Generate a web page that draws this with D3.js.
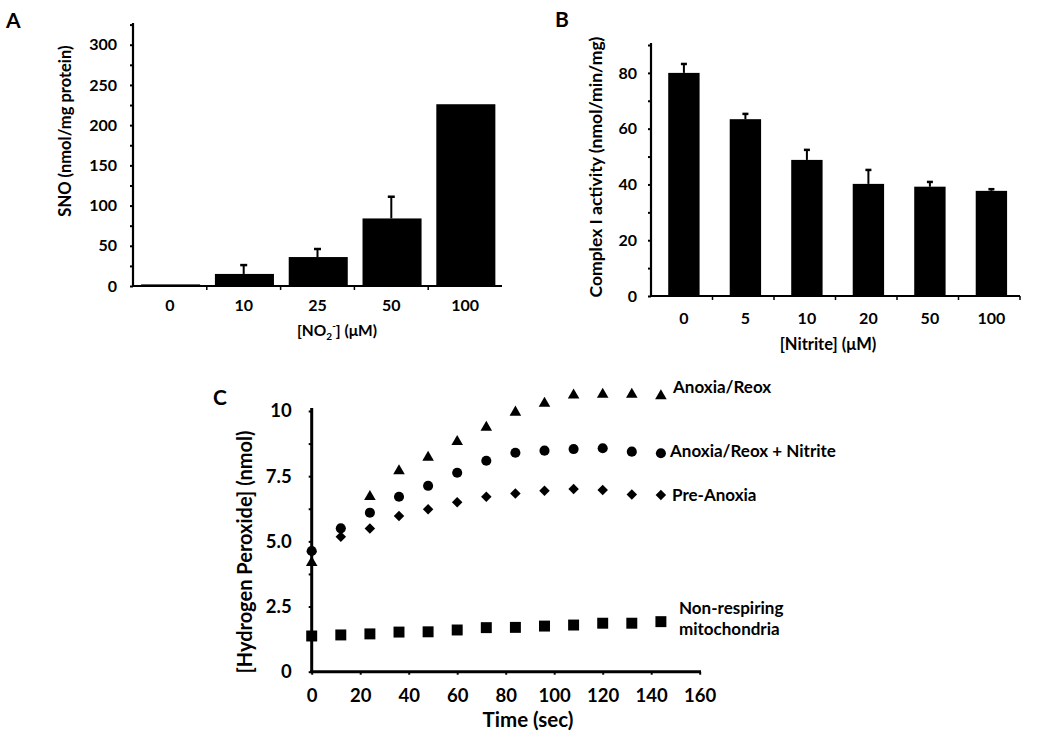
<!DOCTYPE html>
<html>
<head>
<meta charset="utf-8">
<script src="https://cdn.jsdelivr.net/npm/d3@7"></script>
<style>
  html, body { margin: 0; padding: 0; background: #fff; }
  svg { display: block; }
  text { font-family: Lato, "Open Sans", sans-serif; font-weight: bold; fill: #000; }
</style>
</head>
<body>
<svg id="chart" width="1050" height="740"></svg>
<script>
// ---------- Panel A data ----------
const catsA = ["0", "10", "25", "50", "100"];
const snoMean = [2, 15, 36, 84, 226];
const snoErr = [0, 11, 10, 27, 0];
const ticksA = [0, 50, 100, 150, 200, 250, 300];

// ---------- Panel B data ----------
const catsB = ["0", "5", "10", "20", "50", "100"];
const complexMean = [80, 63.4, 48.8, 40.2, 39.2, 37.7];
const complexErr = [3.2, 1.9, 3.6, 5.0, 1.7, 0.6];
const ticksB = [0, 20, 40, 60, 80];

// ---------- Panel C data ----------
const timeSec = [0, 12, 24, 36, 48, 60, 72, 84, 96, 108, 120, 132, 144];
const anoxiaReox = [4.18, null, 6.71, 7.70, 8.22, 8.82, 9.37, 9.95, 10.29, 10.61, 10.64, 10.64, 10.58];
const anoxiaNitrite = [4.63, 5.50, 6.10, 6.71, 7.13, 7.63, 8.09, 8.40, 8.48, 8.54, 8.57, 8.44, 8.38];
const preAnoxia = [4.60, 5.18, 5.49, 5.97, 6.23, 6.50, 6.71, 6.84, 6.94, 7.01, 6.97, 6.80, 6.78];
const nonRespiring = [1.37, 1.41, 1.45, 1.52, 1.53, 1.60, 1.69, 1.70, 1.75, 1.79, 1.86, 1.86, 1.92];
const ticksCy = [0, 2.5, 5.0, 7.5, 10];
const ticksCyLabels = ["0", "2.5", "5.0", "7.5", "10"];
const ticksCx = [0, 20, 40, 60, 80, 100, 120, 140, 160];

const svg = d3.select("#chart");

// ================= PANEL A =================
(function () {
  const g = svg.append("g");
  const x = d3.scaleBand().domain(catsA).range([133, 502]);
  const y = d3.scaleLinear().domain([0, 327]).range([286, 23]);
  const bw = x.bandwidth();

  g.selectAll("rect.bar").data(catsA).join("rect")
    .attr("x", d => x(d) + bw * 0.11)
    .attr("width", bw * 0.8)
    .attr("y", (d, i) => y(snoMean[i]))
    .attr("height", (d, i) => y(0) - y(snoMean[i]))
    .attr("fill", "#000");

  catsA.forEach((c, i) => {
    if (snoErr[i] <= 0) return;
    const cx = x(c) + bw / 2;
    g.append("line").attr("x1", cx).attr("x2", cx)
      .attr("y1", y(snoMean[i])).attr("y2", y(snoMean[i] + snoErr[i]))
      .attr("stroke", "#000").attr("stroke-width", 2);
    g.append("line").attr("x1", cx - 3.5).attr("x2", cx + 3.5)
      .attr("y1", y(snoMean[i] + snoErr[i])).attr("y2", y(snoMean[i] + snoErr[i]))
      .attr("stroke", "#000").attr("stroke-width", 2.5);
  });

  const yAxis = d3.axisLeft(y).tickValues(d3.range(0, 326, 25)).tickSize(3)
    .tickFormat(d => ticksA.includes(d) ? d : "");
  const ya = g.append("g").attr("transform", "translate(133,0)").call(yAxis);
  ya.select(".domain").remove();
  ya.selectAll(".tick line").attr("stroke-width", 2);
  ya.selectAll(".tick text").attr("x", -16).attr("font-size", 16).attr("font-family", null);
  g.append("line").attr("x1", 133).attr("x2", 133).attr("y1", 23).attr("y2", 287)
    .attr("stroke", "#000").attr("stroke-width", 2.2);

  g.append("line").attr("x1", 132).attr("x2", 502).attr("y1", 286).attr("y2", 286)
    .attr("stroke", "#000").attr("stroke-width", 2.2);
  catsA.forEach((c, i) => {
    if (i === 0) return;
    g.append("line").attr("x1", x(c)).attr("x2", x(c)).attr("y1", 286).attr("y2", 290)
      .attr("stroke", "#000").attr("stroke-width", 1.5);
  });
  g.selectAll("text.xl").data(catsA).join("text")
    .attr("x", d => x(d) + bw / 2).attr("y", 311)
    .attr("text-anchor", "middle").attr("font-size", 16).text(d => d);

  const xt = g.append("text").attr("x", 337).attr("y", 336)
    .attr("text-anchor", "middle").attr("font-size", 15.5);
  xt.append("tspan").text("[NO");
  xt.append("tspan").attr("font-size", 10).attr("dy", 4).text("2");
  xt.append("tspan").attr("font-size", 10).attr("dy", -11).text("-");
  xt.append("tspan").attr("dy", 7).text("] (μM)");

  g.append("text").attr("transform", "translate(71,131) rotate(-90)")
    .attr("text-anchor", "middle").attr("font-size", 16.5).text("SNO (nmol/mg protein)");

  g.append("text").attr("x", 6).attr("y", 28).attr("font-size", 21).text("A");
})();

// ================= PANEL B =================
(function () {
  const g = svg.append("g");
  const x = d3.scaleBand().domain(catsB).range([651, 1020]);
  const y = d3.scaleLinear().domain([0, 90]).range([296, 45]);
  const bw = x.bandwidth();

  g.selectAll("rect.bar").data(catsB).join("rect")
    .attr("x", d => x(d) + bw * 0.28)
    .attr("width", bw * 0.51)
    .attr("y", (d, i) => y(complexMean[i]))
    .attr("height", (d, i) => y(0) - y(complexMean[i]))
    .attr("fill", "#000");

  catsB.forEach((c, i) => {
    const cx = x(c) + bw * 0.28 + bw * 0.51 / 2;
    g.append("line").attr("x1", cx).attr("x2", cx)
      .attr("y1", y(complexMean[i])).attr("y2", y(complexMean[i] + complexErr[i]))
      .attr("stroke", "#000").attr("stroke-width", 2);
    g.append("line").attr("x1", cx - 3).attr("x2", cx + 3)
      .attr("y1", y(complexMean[i] + complexErr[i])).attr("y2", y(complexMean[i] + complexErr[i]))
      .attr("stroke", "#000").attr("stroke-width", 2.5);
  });

  const yAxis = d3.axisLeft(y).tickValues(d3.range(0, 91, 10)).tickSize(3)
    .tickFormat(d => ticksB.includes(d) ? d : "");
  const ya = g.append("g").attr("transform", "translate(651,0)").call(yAxis);
  ya.select(".domain").remove();
  ya.selectAll(".tick line").attr("stroke-width", 2);
  ya.selectAll(".tick text").attr("x", -14).attr("font-size", 16).attr("font-family", null);
  g.append("line").attr("x1", 651).attr("x2", 651).attr("y1", 43).attr("y2", 297)
    .attr("stroke", "#000").attr("stroke-width", 2.2);

  g.append("line").attr("x1", 650).attr("x2", 1020).attr("y1", 296).attr("y2", 296)
    .attr("stroke", "#000").attr("stroke-width", 2.2);
  catsB.forEach((c, i) => {
    g.append("line").attr("x1", x(c) + bw).attr("x2", x(c) + bw).attr("y1", 296).attr("y2", 300)
      .attr("stroke", "#000").attr("stroke-width", 1.5);
  });
  g.selectAll("text.xl").data(catsB).join("text")
    .attr("x", d => x(d) + bw * 0.28 + bw * 0.51 / 2).attr("y", 324)
    .attr("text-anchor", "middle").attr("font-size", 16).text(d => d);

  g.append("text").attr("x", 828).attr("y", 350)
    .attr("text-anchor", "middle").attr("font-size", 16.5).text("[Nitrite] (μM)");
  g.append("text").attr("transform", "translate(602,167) rotate(-90)")
    .attr("text-anchor", "middle").attr("font-size", 17.5).text("Complex I activity (nmol/min/mg)");

  g.append("text").attr("x", 555).attr("y", 27).attr("font-size", 21).text("B");
})();

// ================= PANEL C =================
(function () {
  const g = svg.append("g");
  const x = d3.scaleLinear().domain([0, 160]).range([311.7, 699.7]);
  const y = d3.scaleLinear().domain([0, 10]).range([671.7, 411]);

  const yAxis = d3.axisLeft(y).tickValues(d3.range(0, 10.01, 1.25)).tickSize(3)
    .tickFormat(d => {
      const k = ticksCy.indexOf(d);
      return k >= 0 ? ticksCyLabels[k] : "";
    });
  const ya = g.append("g").attr("transform", "translate(311.7,0)").call(yAxis);
  ya.select(".domain").remove();
  ya.selectAll(".tick line").attr("stroke-width", 2);
  ya.selectAll(".tick text").attr("x", -20).attr("font-size", 18.5).attr("font-family", null);

  const xAxis = d3.axisBottom(x).tickValues(ticksCx).tickSize(3).tickFormat(d => d);
  const xa = g.append("g").attr("transform", "translate(0,671.7)").call(xAxis);
  xa.select(".domain").remove();
  xa.selectAll(".tick line").attr("stroke-width", 2);
  xa.selectAll(".tick text").attr("y", 17).attr("font-size", 18.5).attr("font-family", null);

  g.append("line").attr("x1", 311.7).attr("x2", 311.7).attr("y1", 408).attr("y2", 673)
    .attr("stroke", "#000").attr("stroke-width", 3);
  g.append("line").attr("x1", 310.2).attr("x2", 701).attr("y1", 671.7).attr("y2", 671.7)
    .attr("stroke", "#000").attr("stroke-width", 3);

  const series = [
    { vals: nonRespiring, sym: d3.symbolSquare, size: 120, rot: 0 },
    { vals: preAnoxia, sym: d3.symbolSquare, size: 55, rot: 45 },
    { vals: anoxiaReox, sym: d3.symbolTriangle, size: 58, rot: 0 },
    { vals: anoxiaNitrite, sym: d3.symbolCircle, size: 80, rot: 0 }
  ];
  series.forEach(s => {
    const pts = timeSec.map((t, i) => [t, s.vals[i]]).filter(p => p[1] !== null);
    g.selectAll(null).data(pts).join("path")
      .attr("transform", d => `translate(${x(d[0])},${y(d[1])}) rotate(${s.rot})`)
      .attr("d", d3.symbol().type(s.sym).size(s.size))
      .attr("fill", "#000");
  });

  g.append("text").attr("x", 673).attr("y", 393).attr("font-size", 17).text("Anoxia/Reox");
  g.append("text").attr("x", 670).attr("y", 457).attr("font-size", 17).text("Anoxia/Reox + Nitrite");
  g.append("text").attr("x", 672).attr("y", 501).attr("font-size", 17).text("Pre-Anoxia");
  g.append("text").attr("x", 679).attr("y", 614).attr("font-size", 17).text("Non-respiring");
  g.append("text").attr("x", 679).attr("y", 635).attr("font-size", 17).text("mitochondria");

  g.append("text").attr("x", 528).attr("y", 727)
    .attr("text-anchor", "middle").attr("font-size", 20.5).text("Time (sec)");
  g.append("text").attr("transform", "translate(252,552) rotate(-90)")
    .attr("text-anchor", "middle").attr("font-size", 20).text("[Hydrogen Peroxide] (nmol)");

  g.append("text").attr("x", 213).attr("y", 405).attr("font-size", 21).text("C");
})();
</script>
</body>
</html>
